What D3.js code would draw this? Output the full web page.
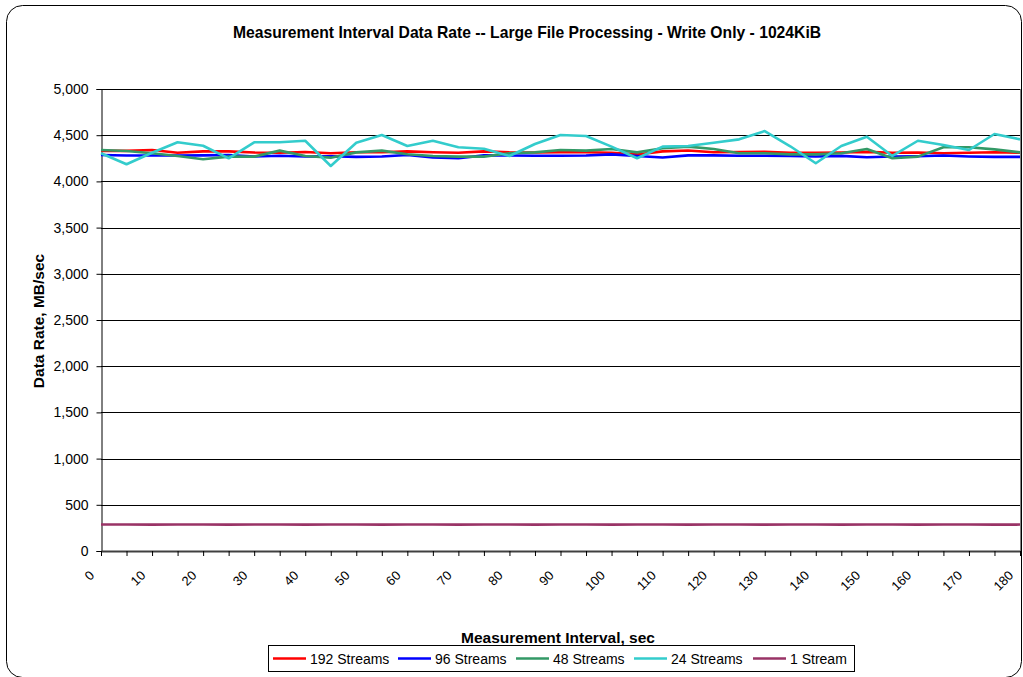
<!DOCTYPE html>
<html>
<head>
<meta charset="utf-8">
<script src="https://cdn.jsdelivr.net/npm/d3@7"></script>
<style>
  body { margin: 0; background: #fff; }
  svg { display: block; font-family: "Liberation Sans", Arial, sans-serif; }
</style>
</head>
<body>
<script>
'use strict';

// measurement interval, sec
const intervals = [0, 5, 10, 15, 20, 25, 30, 35, 40, 45, 50, 55, 60, 65, 70, 75, 80, 85,
  90, 95, 100, 105, 110, 115, 120, 125, 130, 135, 140, 145, 150, 155, 160, 165, 170, 175, 180];
const xTickLabels = [0, 10, 20, 30, 40, 50, 60, 70, 80, 90, 100, 110, 120, 130, 140, 150, 160, 170, 180];
const yTicks = [0, 500, 1000, 1500, 2000, 2500, 3000, 3500, 4000, 4500, 5000];

const seriesNames = ['192 Streams', '96 Streams', '48 Streams', '24 Streams', '1 Stream'];

const streams192 = [4330, 4330, 4340, 4310, 4325, 4325, 4312, 4310, 4318, 4305,
  4315, 4315, 4325, 4315, 4310, 4325, 4315, 4312, 4315,
  4315, 4310, 4292, 4325, 4335, 4315, 4318, 4320, 4310,
  4310, 4312, 4320, 4310, 4312, 4305, 4310, 4315, 4310];
const streams96 = [4285, 4280, 4280, 4280, 4282, 4285, 4270, 4278, 4270, 4272,
  4265, 4270, 4285, 4260, 4250, 4282, 4280, 4278, 4278,
  4280, 4292, 4275, 4258, 4282, 4282, 4278, 4278, 4276,
  4270, 4276, 4262, 4270, 4272, 4280, 4270, 4265, 4265];
const streams48 = [4340, 4329, 4304, 4275, 4239, 4268, 4268, 4333, 4275, 4257,
  4314, 4333, 4293, 4275, 4268, 4268, 4304, 4314, 4340,
  4333, 4351, 4314, 4358, 4376, 4351, 4304, 4304, 4293,
  4293, 4304, 4351, 4250, 4268, 4369, 4369, 4347, 4314];
const streams24 = [4304, 4185, 4310, 4423, 4386, 4250, 4423, 4423, 4440, 4167,
  4419, 4502, 4383, 4440, 4369, 4354, 4275, 4405, 4502,
  4491, 4376, 4250, 4376, 4383, 4419, 4455, 4545, 4380,
  4196, 4383, 4484, 4275, 4440, 4394, 4340, 4513, 4455];
const streams1 = [286, 286, 285, 286, 286, 285, 286, 286, 285, 286,
  286, 285, 286, 286, 285, 286, 286, 285, 286,
  286, 285, 286, 286, 285, 286, 286, 285, 286,
  286, 285, 286, 286, 285, 286, 286, 285, 286];

const seriesValues = [streams192, streams96, streams48, streams24, streams1];
const seriesColors = ['#ff0000', '#0000ff', '#339966', '#33cccc', '#993366'];

const width = 1023, height = 677;
const plot = { left: 101, right: 1020, top: 89, bottom: 551 };

const svg = d3.select('body').append('svg')
  .attr('width', width)
  .attr('height', height);

// chart frame
svg.append('rect')
  .attr('x', 6.5).attr('y', 5.5)
  .attr('width', 1015).attr('height', 672)
  .attr('rx', 16)
  .attr('fill', '#fff')
  .attr('stroke', '#000')
  .attr('stroke-width', 1);

const x = d3.scaleLinear().domain([0, 180]).range([plot.left, plot.right]);
const y = d3.scaleLinear().domain([0, 5000]).range([plot.bottom, plot.top]);

// gridlines
svg.append('g')
  .selectAll('line')
  .data(yTicks.filter((d) => d > 0))
  .enter()
  .append('line')
    .attr('x1', plot.left).attr('x2', plot.right)
    .attr('y1', (d) => Math.round(y(d)) + 0.5)
    .attr('y2', (d) => Math.round(y(d)) + 0.5)
    .attr('stroke', '#000')
    .attr('stroke-width', 1);

// right border of plot area
svg.append('line')
  .attr('x1', plot.right + 0.5).attr('x2', plot.right + 0.5)
  .attr('y1', plot.top).attr('y2', plot.bottom)
  .attr('stroke', '#808080');

// y axis
const yAxis = d3.axisLeft(y)
  .tickValues(yTicks)
  .tickSize(5)
  .tickPadding(8)
  .tickFormat(d3.format(','));
const gy = svg.append('g')
  .attr('transform', 'translate(' + (plot.left + 0.5) + ',0)')
  .call(yAxis);
gy.select('.domain').attr('stroke', '#000');
gy.selectAll('.tick line').attr('stroke', '#000');
gy.selectAll('.tick text')
  .style('font-size', '14px')
  .style('font-family', '"Liberation Sans", Arial, sans-serif')
  .attr('fill', '#000');

// x axis
const xAxis = d3.axisBottom(x)
  .tickValues(intervals)
  .tickSize(5)
  .tickSizeOuter(0)
  .tickFormat('');
const gx = svg.append('g')
  .attr('transform', 'translate(0,' + plot.bottom + ')')
  .call(xAxis);
gx.select('.domain').attr('stroke', '#404040').attr('stroke-width', 2);
gx.selectAll('.tick line').attr('stroke', '#000');

svg.append('g')
  .selectAll('text')
  .data(xTickLabels)
  .enter()
  .append('text')
    .attr('transform', (d) => 'translate(' + (x(d) - 9) + ',' + 573 + ')rotate(-45)')
    .attr('text-anchor', 'end')
    .attr('dy', '0.35em')
    .style('font-size', '13px')
    .text((d) => d);

// series
const line = d3.line()
  .x((d, i) => x(intervals[i]))
  .y((d) => y(d));

seriesValues.forEach((vals, k) => {
  svg.append('path')
    .datum(vals)
    .attr('fill', 'none')
    .attr('stroke', seriesColors[k])
    .attr('stroke-width', 2.6)
    .attr('stroke-linejoin', 'round')
    .attr('d', line);
});

// titles
svg.append('text')
  .attr('x', 527)
  .attr('y', 38)
  .attr('text-anchor', 'middle')
  .style('font-size', '15.7px')
  .style('font-weight', 'bold')
  .text('Measurement Interval Data Rate -- Large File Processing - Write Only - 1024KiB');

svg.append('text')
  .attr('x', 558)
  .attr('y', 643)
  .attr('text-anchor', 'middle')
  .style('font-size', '15.5px')
  .style('font-weight', 'bold')
  .text('Measurement Interval, sec');

svg.append('text')
  .attr('transform', 'translate(44,321)rotate(-90)')
  .attr('text-anchor', 'middle')
  .style('font-size', '15.5px')
  .style('font-weight', 'bold')
  .text('Data Rate, MB/sec');

// legend
const legend = svg.append('g');
legend.append('rect')
  .attr('x', 268.5).attr('y', 645.5)
  .attr('width', 586).attr('height', 26)
  .attr('fill', '#fff')
  .attr('stroke', '#000');

const legendX = [273, 398, 516, 634, 753];
seriesNames.forEach((name, k) => {
  legend.append('line')
    .attr('x1', legendX[k]).attr('x2', legendX[k] + 33)
    .attr('y1', 658.5).attr('y2', 658.5)
    .attr('stroke', seriesColors[k])
    .attr('stroke-width', 2.6);
  legend.append('text')
    .attr('x', legendX[k] + 37)
    .attr('y', 663.5)
    .style('font-size', '14px')
    .text(name);
});
</script>
</body>
</html>
